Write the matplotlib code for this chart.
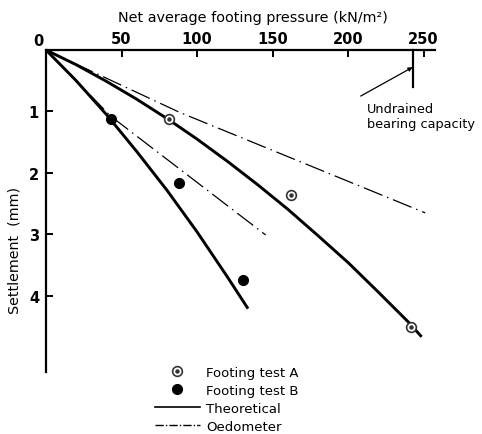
import numpy as np
import matplotlib
matplotlib.use('Agg')
import matplotlib.pyplot as plt
from matplotlib.lines import Line2D
from matplotlib.legend_handler import HandlerTuple

plt.rcParams['font.family'] = ['DejaVu Sans']

# measured points (pressure kN/m2, settlement mm)
test_a_p = [81.3, 162.4, 241.9]
test_a_s = [1.13, 2.36, 4.50]
test_b_p = [42.7, 88.2, 130.1]
test_b_s = [1.13, 2.16, 3.75]

# theoretical curves
theory_a_p = [0, 20, 40, 60, 81, 100, 120, 140, 160, 180, 200, 220, 240, 248]
theory_a_s = [0, 0.24, 0.51, 0.80, 1.13, 1.45, 1.81, 2.19, 2.59, 3.02, 3.46, 3.94, 4.43, 4.65]
theory_b_p = [0, 20, 40, 60, 80, 100, 120, 133.2]
theory_b_s = [0, 0.50, 1.05, 1.65, 2.28, 2.96, 3.69, 4.19]

# oedometer predictions
oedo_a_p = [0, 88, 251]
oedo_a_s = [0, 1.01, 2.65]
oedo_b_p = [0, 43, 145.4]
oedo_b_s = [0, 1.08, 3.01]

undrained_p = 242.7
x_ticks = [50, 100, 150, 200, 250]
y_ticks = [1, 2, 3, 4]

fig = plt.figure(figsize=(4.82, 4.35), dpi=100)
ax = fig.add_axes([46 / 482, 1 - 373 / 435, (435 - 46) / 482, (373 - 51) / 435])

ax.set_xlim(0, 257.5)
ax.set_ylim(5.24, 0)

dash = (0, (16, 4, 1.2, 4))
ax.plot(theory_a_p, theory_a_s, color='black', lw=2.1, solid_joinstyle='round')
ax.plot(theory_b_p, theory_b_s, color='black', lw=2.1, solid_joinstyle='round')
ax.plot(oedo_a_p, oedo_a_s, color='black', lw=0.9, ls=dash)
ax.plot(oedo_b_p, oedo_b_s, color='black', lw=0.9, ls=dash)

ax.plot(test_a_p, test_a_s, 'o', ms=7, mfc='white', mec='#333333', mew=1.2, zorder=5)
ax.plot(test_a_p, test_a_s, 'o', ms=2.2, color='#333333', zorder=6)
ax.plot(test_b_p, test_b_s, 'o', ms=7, color='black', zorder=5)

# undrained bearing capacity marker
ax.plot([undrained_p, undrained_p], [0, 0.6], color='black', lw=1.6, clip_on=False)
ax.annotate('', xy=(undrained_p, 0.28), xytext=(208.3, 0.75),
            arrowprops=dict(arrowstyle='-|>', color='black', lw=0.9,
                            mutation_scale=6, shrinkA=0, shrinkB=0))
ax.text(212.5, 1.07, 'Undrained\nbearing capacity', fontsize=9.3,
        va='center', ha='left', linespacing=1.25, clip_on=False)

ax.spines['right'].set_visible(False)
ax.spines['bottom'].set_visible(False)
ax.spines['top'].set_linewidth(1.6)
ax.spines['left'].set_linewidth(1.6)

ax.xaxis.tick_top()
ax.set_xticks(x_ticks)
ax.set_yticks(y_ticks)
ax.tick_params(axis='both', direction='in', length=5, width=1.4, labelsize=10.5)
ax.tick_params(axis='x', pad=3)
ax.tick_params(axis='y', pad=5)
for lab in ax.get_xticklabels() + ax.get_yticklabels():
    lab.set_fontweight('bold')

fig.text(38 / 482, 1 - 41 / 435, '0', fontsize=10.5, fontweight='bold',
         ha='center', va='center')
fig.text(253 / 482, 1 - 18 / 435, 'Net average footing pressure (kN/m\u00b2)',
         fontsize=10.4, ha='center', va='center')
fig.text(15 / 482, 1 - 250 / 435, 'Settlement  (mm)', fontsize=10.3,
         rotation=90, ha='center', va='center')

h_a = (Line2D([], [], ls='none', marker='o', ms=7, mfc='white', mec='#333333', mew=1.2),
       Line2D([], [], ls='none', marker='o', ms=2.2, color='#333333'))
h_b = Line2D([], [], ls='none', marker='o', ms=7, color='black')
h_t = Line2D([], [], color='black', lw=1.2)
h_o = Line2D([], [], color='black', lw=1.0, ls=(0, (6, 1.5, 1, 1.5)))
fig.legend([h_a, h_b, h_t, h_o],
           ['Footing test A', 'Footing test B', 'Theoretical', 'Oedometer'],
           handler_map={tuple: HandlerTuple(ndivide=1)},
           loc='upper left', bbox_to_anchor=(155 / 482, 1 - 367 / 435),
           frameon=False, fontsize=9.5, handlelength=3.4, handletextpad=0.45,
           labelspacing=0.38, borderpad=0, borderaxespad=0)

fig.savefig('out.png', dpi=100)
